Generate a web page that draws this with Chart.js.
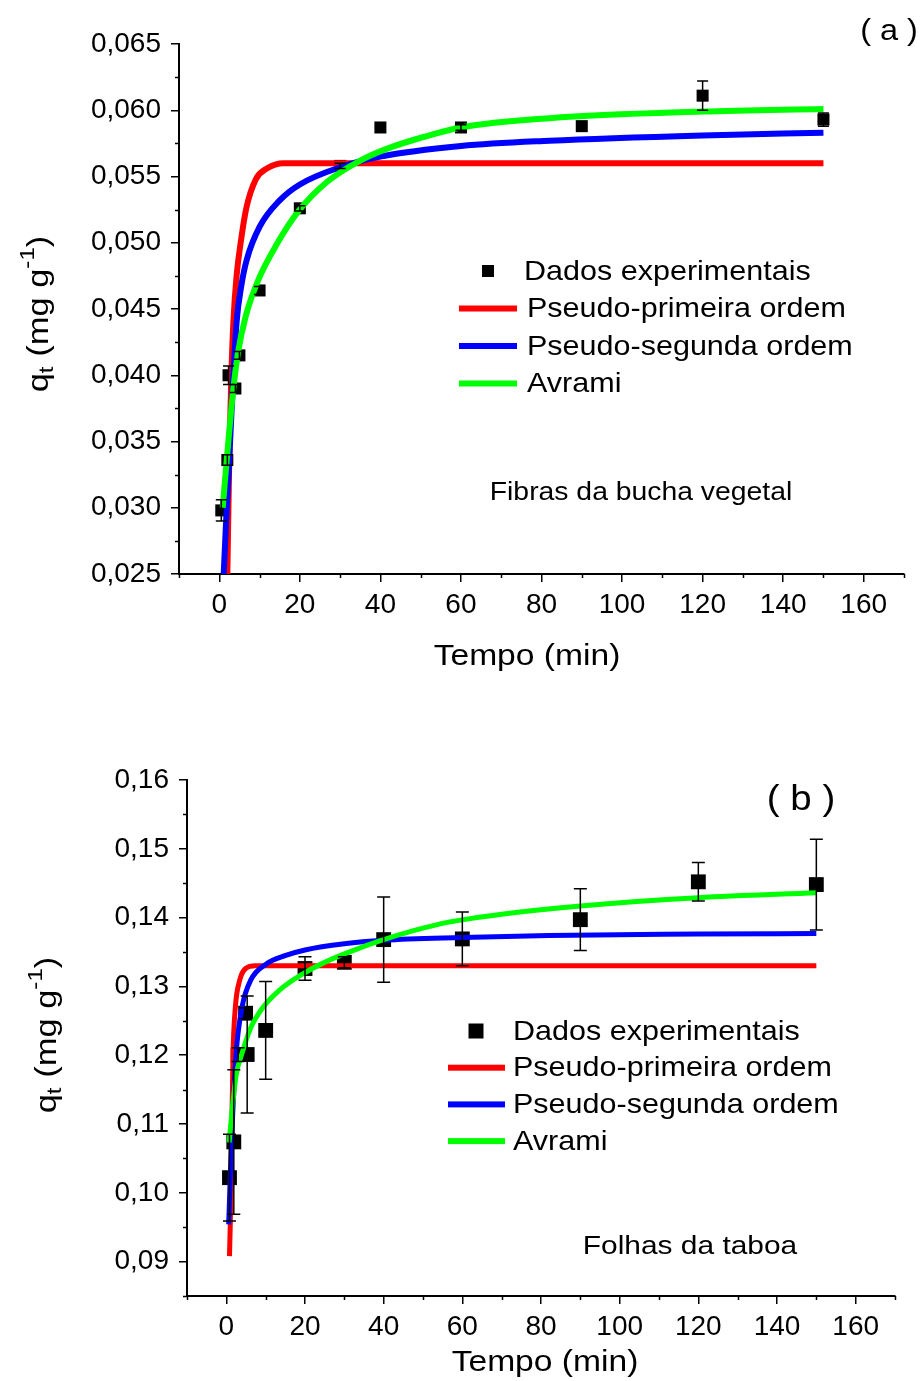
<!DOCTYPE html>
<html>
<head>
<meta charset="utf-8">
<script src="https://cdn.jsdelivr.net/npm/chart.js@4.4.1/dist/chart.umd.min.js"></script>
<style>
  html, body { margin: 0; padding: 0; background: #fff; }
  body { width: 921px; height: 1381px; position: relative; overflow: hidden; }
  canvas { position: absolute; left: 0; }
  #panel-a { top: 0; }
  #panel-b { top: 690px; }
</style>
</head>
<body>
<canvas id="panel-a" width="921" height="690"></canvas>
<canvas id="panel-b" width="921" height="691"></canvas>
<script>
// ═══ DATA — panel (a): Fibras da bucha vegetal ═══
const A_T   = [0.5, 2, 2.3, 4, 5, 10, 20, 30, 40, 60, 90, 120, 150];
const A_Q   = [0.0298, 0.0336, 0.0400, 0.0390, 0.0415, 0.0464, 0.0526, 0.0558, 0.0587, 0.0587, 0.0588, 0.0611, 0.0593];
const A_ERR = [0.0008, 0.0004, 0.0007, 0.0003, 0.0003, 0.0003, 0.0002, 0.0002, 0, 0.0002, 0, 0.0011, 0.0005];

const A_PFO_T = [2.0, 2.5, 3.0, 3.5, 4.3, 5.4, 6.7, 9.1, 11.8, 16, 30, 60, 100, 150];
const A_PFO_Q = [0.0250, 0.0340, 0.0400, 0.0440, 0.0475, 0.0502, 0.0526, 0.0548, 0.0556, 0.0560, 0.0560, 0.0560, 0.0560, 0.0560];
const A_PSO_T = [1.1, 1.7, 2.3, 3.0, 4.3, 5.5, 6.8, 10, 15, 20, 30, 40, 60, 82, 120, 150];
const A_PSO_Q = [0.0250, 0.0290, 0.0325, 0.0370, 0.0440, 0.0468, 0.0487, 0.0512, 0.0532, 0.0544, 0.0557, 0.0565, 0.0573, 0.0577, 0.0581, 0.0583];
const A_AVR_T = [0.85, 1.85, 3.5, 4.7, 6.6, 9.7, 14.3, 19.7, 26.8, 35, 41.7, 50.9, 60, 82, 120, 150];
const A_AVR_Q = [0.0300, 0.0336, 0.0390, 0.0418, 0.0445, 0.0472, 0.0499, 0.0524, 0.0546, 0.0562, 0.0571, 0.0580, 0.0587, 0.0594, 0.0599, 0.0601];

const A_YTICKS = [0.025, 0.030, 0.035, 0.040, 0.045, 0.050, 0.055, 0.060, 0.065];
const A_YMINOR = [0.0275, 0.0325, 0.0375, 0.0425, 0.0475, 0.0525, 0.0575, 0.0625];

// ═══ DATA — panel (b): Folhas da taboa ═══
const B_T   = [0.8, 1.9, 3.0, 4.9, 5.3, 10, 20, 30, 40, 60, 90, 120, 150];
const B_Q   = [0.1022, 0.1074, 0.1201, 0.1261, 0.1201, 0.1236, 0.1326, 0.1335, 0.1368, 0.1369, 0.1397, 0.1452, 0.1448];
const B_ERR = [0.0063, 0.0105, 0.0010, 0.0008, 0.0085, 0.0071, 0.0017, 0.0008, 0.0062, 0.0039, 0.0045, 0.0028, 0.0066];

const B_PFO_T = [0.8, 1.0, 1.7, 2.3, 3.4, 4.9, 7.4, 20, 60, 100, 150];
const B_PFO_Q = [0.0908, 0.0954, 0.1201, 0.1270, 0.1309, 0.1326, 0.1330, 0.1330, 0.1330, 0.1330, 0.1330];
const B_PSO_T = [0.6, 1.3, 2.5, 4.0, 6.2, 10, 15.1, 20, 30, 40, 60, 82, 120, 150];
const B_PSO_Q = [0.0954, 0.1073, 0.1203, 0.1270, 0.1309, 0.1332, 0.1345, 0.1353, 0.1362, 0.1367, 0.1371, 0.1374, 0.1376, 0.1377];
const B_AVR_T = [0.7, 1.5, 2.5, 4, 6.2, 9.1, 13.4, 19.4, 25.4, 32.2, 39, 47.6, 56.2, 70, 90, 120, 150];
const B_AVR_Q = [0.1073, 0.1122, 0.1171, 0.1203, 0.1240, 0.1268, 0.1294, 0.1318, 0.1336, 0.1352, 0.1366, 0.1381, 0.1393, 0.1405, 0.1417, 0.1429, 0.1436];

const B_YTICKS = [0.09, 0.10, 0.11, 0.12, 0.13, 0.14, 0.15, 0.16];
const B_YMINOR = [0.085, 0.095, 0.105, 0.115, 0.125, 0.135, 0.145, 0.155];

// shared x axis
const X_TICKS = [0, 20, 40, 60, 80, 100, 120, 140, 160];
const X_MINOR = [-10, 10, 30, 50, 70, 90, 110, 130, 150, 170];

const SERIES_LABELS = ['Dados experimentais', 'Pseudo-primeira ordem', 'Pseudo-segunda ordem', 'Avrami'];
const SERIES_COLORS = ['#000000', '#ff0000', '#0000ff', '#00ff00'];
const X_TITLE = 'Tempo (min)';

const FONT = '"Liberation Sans", Arial, Helvetica, sans-serif';

function pts(xs, ys) { return xs.map((x, i) => ({ x: x, y: ys[i] })); }

// text a little wider than the font, like the original figure
function wideText(ctx, text, x, y, size, align, sx) {
  ctx.save();
  ctx.font = size + 'px ' + FONT;
  ctx.textAlign = align;
  ctx.textBaseline = 'middle';
  ctx.translate(x, y);
  ctx.scale(sx, 1);
  ctx.fillText(text, 0, 0);
  ctx.restore();
}

// ═══ PLUGIN ═══
// error bars, minor ticks, axis titles, legend and notes
const panelDecor = {
  id: 'panelDecor',
  afterDatasetsDraw(chart) {
    const o = chart.options.plugins.panelDecor;
    const ctx = chart.ctx;
    const xs = chart.scales.x, ys = chart.scales.y;
    const ds = chart.data.datasets[0];
    ctx.save();
    ctx.strokeStyle = '#000';
    ctx.lineWidth = 1.5;
    ds.data.forEach((p, i) => {
      const e = ds.errors[i];
      if (!e) return;
      const px = xs.getPixelForValue(p.x);
      const top = ys.getPixelForValue(p.y + e);
      const bot = ys.getPixelForValue(p.y - e);
      const c = o.cap / 2;
      ctx.beginPath();
      ctx.moveTo(px, top); ctx.lineTo(px, bot);
      ctx.moveTo(px - c, top); ctx.lineTo(px + c, top);
      ctx.moveTo(px - c, bot); ctx.lineTo(px + c, bot);
      ctx.stroke();
    });
    ctx.restore();
  },
  afterDraw(chart) {
    const o = chart.options.plugins.panelDecor;
    const ctx = chart.ctx;
    const xs = chart.scales.x, ys = chart.scales.y;
    const area = chart.chartArea;
    ctx.save();
    ctx.strokeStyle = '#000';
    ctx.lineWidth = 1.5;
    // minor ticks
    ctx.beginPath();
    o.minorX.forEach(v => {
      const px = Math.round(xs.getPixelForValue(v)) + 0.5;
      ctx.moveTo(px, area.bottom); ctx.lineTo(px, area.bottom + 4);
    });
    o.minorY.forEach(v => {
      const py = Math.round(ys.getPixelForValue(v)) + 0.5;
      ctx.moveTo(area.left, py); ctx.lineTo(area.left - 4, py);
    });
    ctx.stroke();
    ctx.fillStyle = '#000';

    // x title
    wideText(ctx, X_TITLE, o.xTitle.x, o.xTitle.y, 30, 'center', 1.12);

    // y title: q_t (mg g^-1)
    const fs = o.yTitleSize;
    ctx.save();
    ctx.translate(o.yTitle.x, o.yTitle.y);
    ctx.rotate(-Math.PI / 2);
    ctx.scale(1.15, 1);
    ctx.textBaseline = 'middle';
    const parts = [
      { t: 'q', s: 1, dy: 0 },
      { t: 't', s: 0.7, dy: 0.25 },
      { t: ' (mg g', s: 1, dy: 0 },
      { t: '-1', s: 0.7, dy: -0.38 },
      { t: ')', s: 1, dy: 0 }
    ];
    let w = 0;
    parts.forEach(p => { ctx.font = (fs * p.s) + 'px ' + FONT; w += ctx.measureText(p.t).width; });
    let cx = -w / 2;
    ctx.textAlign = 'left';
    parts.forEach(p => {
      ctx.font = (fs * p.s) + 'px ' + FONT;
      ctx.fillText(p.t, cx, p.dy * fs);
      cx += ctx.measureText(p.t).width;
    });
    ctx.restore();

    // legend
    const lg = o.legend;
    chart.data.datasets.forEach((d, i) => {
      const y = lg.y + i * lg.gap;
      if (i === 0) {
        ctx.fillStyle = '#000';
        ctx.fillRect(lg.markX - lg.mark / 2, y - lg.mark / 2, lg.mark, lg.mark);
      } else {
        ctx.fillStyle = d.borderColor;
        ctx.fillRect(lg.lineX0, y - 3, lg.lineX1 - lg.lineX0, 6);
      }
      ctx.fillStyle = '#000';
      wideText(ctx, d.label, i === 0 ? lg.textX0 : lg.textX, y + 1, lg.size, 'left', 1.09);
    });

    // notes
    o.notes.forEach(n => wideText(ctx, n.text, n.x, n.y, n.size, 'center', n.sx));
    ctx.restore();
  }
};

function makePanel(id, p) {
  const datasets = [
    {
      label: SERIES_LABELS[0], data: pts(p.t, p.q), errors: p.err,
      showLine: false, pointStyle: 'rect', pointRadius: p.markR,
      backgroundColor: '#000', borderColor: '#000', pointBorderWidth: 0, order: 4
    },
    { label: SERIES_LABELS[1], data: pts(p.pfoT, p.pfoQ), borderColor: SERIES_COLORS[1], order: 3 },
    { label: SERIES_LABELS[2], data: pts(p.psoT, p.psoQ), borderColor: SERIES_COLORS[2], order: 2 },
    { label: SERIES_LABELS[3], data: pts(p.avrT, p.avrQ), borderColor: SERIES_COLORS[3], order: 1 }
  ];
  datasets.slice(1).forEach(d => {
    d.borderWidth = p.lineW;
    d.pointRadius = 0;
    d.cubicInterpolationMode = 'monotone';
    d.fill = false;
    d.clip = 0;
  });

  return new Chart(document.getElementById(id), {
    type: 'line',
    data: { datasets: datasets },
    options: {
      responsive: false,
      animation: false,
      devicePixelRatio: 1,
      layout: { padding: { top: p.padTop, right: p.padRight, left: 0, bottom: 0 } },
      plugins: {
        legend: { display: false },
        tooltip: { enabled: false },
        panelDecor: {
          cap: p.cap, minorX: X_MINOR, minorY: p.yMinor,
          xTitle: p.xTitle, yTitle: p.yTitle, yTitleSize: 30,
          legend: p.legend, notes: p.notes
        }
      },
      scales: {
        x: {
          type: 'linear', min: -10, max: 170,
          afterBuildTicks: s => { s.ticks = X_TICKS.map(v => ({ value: v })); },
          afterFit: s => { s.height = p.xHeight; },
          grid: { drawOnChartArea: false, drawTicks: true, tickLength: 8, color: '#000', lineWidth: 1.5 },
          border: { display: true, color: '#000', width: 2 },
          ticks: { color: '#000', padding: 6, maxRotation: 0, font: { family: FONT, size: 28 } }
        },
        y: {
          type: 'linear', min: p.yMin, max: p.yMax,
          afterBuildTicks: s => { s.ticks = p.yTicks.map(v => ({ value: v })); },
          afterFit: s => { s.width = p.yWidth; },
          grid: { drawOnChartArea: false, drawTicks: true, tickLength: 8, color: '#000', lineWidth: 1.5 },
          border: { display: true, color: '#000', width: 2 },
          ticks: {
            color: '#000', padding: 10, font: { family: FONT, size: 28 },
            callback: v => v.toFixed(p.dec).replace('.', ',')
          }
        }
      }
    },
    plugins: [panelDecor]
  });
}

// ═══ INIT ═══
makePanel('panel-a', {
  t: A_T, q: A_Q, err: A_ERR,
  pfoT: A_PFO_T, pfoQ: A_PFO_Q, psoT: A_PSO_T, psoQ: A_PSO_Q, avrT: A_AVR_T, avrQ: A_AVR_Q,
  yMin: 0.025, yMax: 0.065, yTicks: A_YTICKS, yMinor: A_YMINOR, dec: 3,
  padTop: 44, padRight: 17, yWidth: 179, xHeight: 116,
  markR: 8.5, lineW: 6, cap: 11,
  xTitle: { x: 527, y: 657 },
  yTitle: { x: 40, y: 314 },
  legend: { y: 271, gap: 37.5, size: 28, mark: 12, markX: 488, textX0: 524, lineX0: 459, lineX1: 517, textX: 527 },
  notes: [
    { text: 'Fibras da bucha vegetal', x: 641, y: 493, size: 26, sx: 1.09 },
    { text: '( a )', x: 889, y: 32, size: 29, sx: 1.12 }
  ]
});

makePanel('panel-b', {
  t: B_T, q: B_Q, err: B_ERR,
  pfoT: B_PFO_T, pfoQ: B_PFO_Q, psoT: B_PSO_T, psoQ: B_PSO_Q, avrT: B_AVR_T, avrQ: B_AVR_Q,
  yMin: 0.085, yMax: 0.16, yTicks: B_YTICKS, yMinor: B_YMINOR, dec: 2,
  padTop: 90, padRight: 26, yWidth: 187, xHeight: 85,
  markR: 10.5, lineW: 5, cap: 13,
  xTitle: { x: 545, y: 673 },
  yTitle: { x: 48, y: 345 },
  legend: { y: 341, gap: 36.7, size: 28, mark: 15, markX: 476, textX0: 513, lineX0: 448, lineX1: 505, textX: 513 },
  notes: [
    { text: 'Folhas da taboa', x: 690, y: 557, size: 26, sx: 1.15 },
    { text: '( b )', x: 801, y: 110, size: 35, sx: 1.1 }
  ]
});
</script>
</body>
</html>
